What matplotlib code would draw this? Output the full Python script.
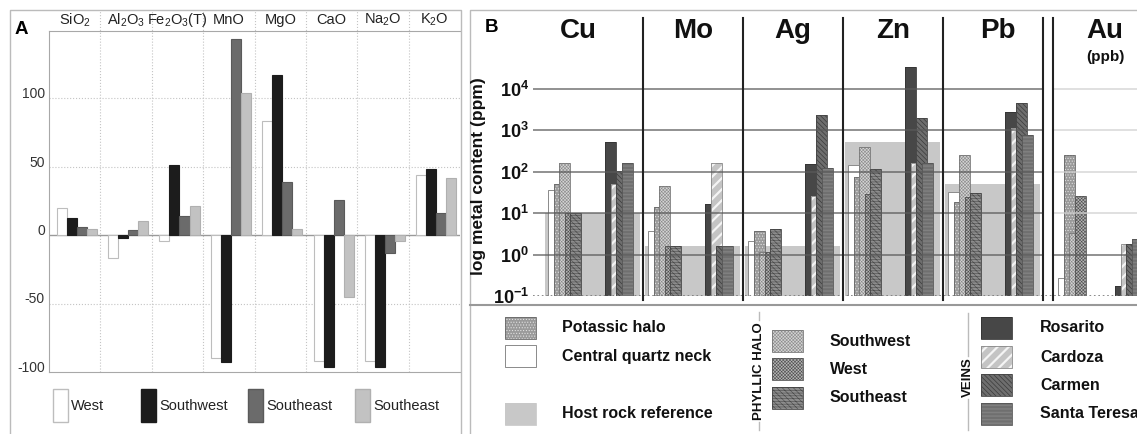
import numpy as np
import matplotlib
matplotlib.use('Agg')
import matplotlib.pyplot as plt
from matplotlib.patches import Rectangle
from matplotlib.ticker import NullLocator
from matplotlib.transforms import ScaledTranslation

plt.rcParams['font.family'] = ['Liberation Sans', 'DejaVu Sans']
plt.rcParams['mathtext.fontset'] = 'custom'
plt.rcParams['mathtext.rm'] = 'Liberation Sans'
plt.rcParams['mathtext.bf'] = 'Liberation Sans:bold'
plt.rcParams['mathtext.it'] = 'Liberation Sans:italic'
plt.rcParams['axes.unicode_minus'] = False
plt.rcParams['hatch.linewidth'] = 0.45

# ---- panel A data (relative change, %) ----
oxides = ['SiO$_2$', 'Al$_2$O$_3$', 'Fe$_2$O$_3$(T)', 'MnO', 'MgO', 'CaO', 'Na$_2$O', 'K$_2$O']
west = [20, -17, -4, -90, 83, -92, -92, 44]
southwest = [12.5, -2.5, 51.5, -93, 117, -96, -96, 48]
southeast_dark = [6, 4, 14, 143, 39, 25.5, -13, 16]
southeast_light = [4.5, 10, 21, 104, 4.5, -45.5, -4.5, 42]
legend_a = ['West', 'Southwest', 'Southeast', 'Southeast']

# ---- panel B data (ppm, Au in ppb) ----
metals = ['Cu', 'Mo', 'Ag', 'Zn', 'Pb', 'Au']
host_rock = [10, 1.6, 1.6, 525, 50, np.nan]
quartz_neck = [36, 3.7, 2.1, 145, 32, 0.27]
potassic = [50, 14, 3.7, 75, 18.6, 257]
phyllic_sw = [160, 46, 1.15, 400, 257, 3.3]
phyllic_w = [10, 1.6, 1.15, 29, 24.5, 26]
phyllic_se = [10, 1.6, 4.2, 117, 31, np.nan]
rosarito = [525, 17, 155, 34000, 2750, 0.17]
cardoza = [50, 160, 26, 160, 1150, 1.8]
carmen = [105, 1.6, 2350, 2000, 4600, 1.8]
santa_teresa = [160, 1.6, 124, 160, 780, 2.4]

W, H = 1137, 434
fig = plt.figure(figsize=(W / 100, H / 100), dpi=100)


def box(x0, y0, x1, y1):
    return [x0 / W, 1 - y1 / H, (x1 - x0) / W, (y1 - y0) / H]


def set_hlw(patches, lw):
    for p in patches:
        if hasattr(p, 'set_hatch_linewidth'):
            p.set_hatch_linewidth(lw)


STYLES = {
    'quartz': dict(fc='white', hc='none', hatch=None, ec='#777777'),
    'potassic': dict(fc='#9a9a9a', hc='#e4e4e4', hatch='......', ec='#666666'),
    'sw': dict(fc='#d4d4d4', hc='#8a8a8a', hatch='x' * 10, ec='#777777', hlw=0.4),
    'w': dict(fc='#b4b4b4', hc='#4e4e4e', hatch='x' * 10, ec='#555555', hlw=0.4),
    'se': dict(fc='#8c8c8c', hc='#4a4a4a', hatch='\\' * 6 + '-' * 6, ec='#444444', hlw=0.4),
    'rosarito': dict(fc='#474747', hc='none', hatch=None, ec='#333333'),
    'cardoza': dict(fc='#c4c4c4', hc='#f4f4f4', hatch='///', ec='#888888', hlw=1.6),
    'carmen': dict(fc='#6e6e6e', hc='#3a3a3a', hatch='\\' * 7, ec='#444444', hlw=0.5),
    'teresa': dict(fc='#888888', hc='#5c5c5c', hatch='-' * 12, ec='#555555', hlw=0.4),
    'host': dict(fc='#c8c8c8', hc='none', hatch=None, ec='#c8c8c8'),
}

# ================= panel A =================
axA = fig.add_axes(box(49, 31, 460, 372))
n = len(oxides)
idx = np.arange(n)
bw = 0.195
seriesA = [(west, 'white', '#bdbdbd'), (southwest, '#1c1c1c', '#1c1c1c'),
           (southeast_dark, '#6b6b6b', '#5a5a5a'), (southeast_light, '#c2c2c2', '#b0b0b0')]
for j, (vals, fc, ec) in enumerate(seriesA):
    axA.bar(idx + 0.15 + j * bw, vals, bw, align='edge', color=fc, edgecolor=ec,
            linewidth=0.8, zorder=3)

axA.set_xlim(0, n)
axA.set_ylim(-100, 149)
axA.axhline(0, color='#9a9a9a', lw=1, zorder=2)
for v in (-50, 50, 100):
    axA.axhline(v, color='#c4c4c4', lw=0.8, ls=':', zorder=1)
for i in range(1, n):
    axA.axvline(i, ymin=0, ymax=(372 - 10) / 341, color='#c4c4c4', lw=0.8, ls=':',
                clip_on=False, zorder=1)
for side in ('left', 'bottom', 'top'):
    axA.spines[side].set_color('#a8a8a8')
axA.spines['right'].set_visible(False)
axA.set_xticks([])
axA.set_yticks([-100, -50, 0, 50, 100])
axA.tick_params(axis='y', length=0, pad=3, labelsize=10, colors='#333333')
for lab in axA.get_yticklabels():
    lab.set_transform(lab.get_transform() + ScaledTranslation(0, 4 / 72, fig.dpi_scale_trans))
for i, name in enumerate(oxides):
    axA.text(i + 0.5, (372 - 20) / 341, name, transform=axA.get_xaxis_transform(),
             ha='center', va='center', fontsize=10.5, color='#222222')

# ================= panel B =================
axB = fig.add_axes(box(533, 12, 1137, 296))
axB.set_yscale('log')
ytop = 10 ** (-1 + 284 / 41.4)
axB.set_ylim(0.1, ytop)
axB.set_xlim(-0.1, 5.94)
group_x = np.arange(len(metals)) + np.array([0, 0, 0, 0, 0, 0.1])
base = 0.1
bwB = 0.11


def draw_series(vals, offset, st, z, width=bwB):
    vals = np.asarray(vals, dtype=float)
    ok = ~np.isnan(vals)
    xs = group_x[ok] + offset
    hs = vals[ok] - base
    bars = axB.bar(xs, hs, width, bottom=base, align='edge', color=st['fc'],
                   edgecolor=st['hc'], hatch=st['hatch'], linewidth=0, zorder=z)
    set_hlw(bars, st.get('hlw', 0.45))
    if st is not STYLES['host']:
        axB.bar(xs, hs, width, bottom=base, align='edge', fill=False,
                edgecolor=st['ec'], linewidth=0.6, zorder=z)


draw_series(host_rock, 0.02, STYLES['host'], 1, width=0.95)
halo = [(quartz_neck, 'quartz'), (potassic, 'potassic'), (phyllic_sw, 'sw'),
        (phyllic_w, 'w'), (phyllic_se, 'se')]
for k, (vals, key) in enumerate(halo):
    draw_series(vals, 0.05 + 0.055 * k, STYLES[key], 2 + k)
veins = [(rosarito, 'rosarito'), (cardoza, 'cardoza'), (carmen, 'carmen'),
         (santa_teresa, 'teresa')]
for k, (vals, key) in enumerate(veins):
    draw_series(vals, 0.62 + 0.055 * k, STYLES[key], 10 + k)

decades = [1, 10, 100, 1000, 10000]
for v in decades:
    axB.hlines(v, -0.1, 5.01, color='#5a5a5a', lw=1.1, alpha=0.85, zorder=20)
    axB.hlines(v, group_x[5], 5.94, color='#5a5a5a' if v == 1 else '#d0d0d0',
               lw=1.1, alpha=0.85, zorder=20)
axB.hlines(base * 1.02, -0.1, 5.94, color='#777777', lw=1.2, ls=':', zorder=20)

separators = list(np.arange(1, 6)) + [group_x[5]]
for xb in separators:
    axB.axvline(xb, ymin=-4 / 284, ymax=(296 - 18) / 284, color='#222222', lw=1.5,
                clip_on=False, zorder=25)

title_off = [0.35, 0.5, 0.5, 0.5, 0.55, 0.52]
for i, m in enumerate(metals):
    axB.text(group_x[i] + title_off[i], (296 - 31) / 284, m, transform=axB.get_xaxis_transform(),
             ha='center', va='center', fontsize=20, fontweight='bold', color='#111111')
axB.text(group_x[5] + title_off[5], (296 - 57) / 284, '(ppb)', transform=axB.get_xaxis_transform(),
         ha='center', va='center', fontsize=11, fontweight='bold', color='#111111')

yt = [0.1, 1, 10, 100, 1000, 10000]
axB.set_yticks(yt)
axB.set_yticklabels([r'$\mathbf{10^{%d}}$' % e for e in range(-1, 5)])
axB.yaxis.set_minor_locator(NullLocator())
axB.tick_params(axis='y', length=0, pad=3, labelsize=13, colors='#111111')
axB.set_xticks([])
for s in axB.spines.values():
    s.set_visible(False)
axB.patch.set_alpha(0)
fig.text(478 / W, 1 - 176 / H, 'log metal content (ppm)', rotation=90, ha='center',
         va='center', fontsize=12.5, fontweight='bold', color='#111111')

# ================= overlay: frames, labels, legends =================
ov = fig.add_axes([0, 0, 1, 1])
ov.set_xlim(0, W)
ov.set_ylim(H, 0)
ov.axis('off')

ov.plot([10, 10, 461, 461], [433, 10, 10, 433], color='#bbbbbb', lw=1)
ov.plot([470, 470, 1137], [434, 10, 10], color='#bbbbbb', lw=1)
ov.plot([470, 1137], [305, 305], color='#999999', lw=1.5)
ov.text(15, 29, 'A', fontsize=13.5, fontweight='bold', va='center', ha='left')
ov.text(485, 28, 'B', fontsize=13.5, fontweight='bold', va='center', ha='left')


def styled_rect(x, y, w, h, st):
    r = Rectangle((x, y), w, h, facecolor=st['fc'], edgecolor=st['hc'], hatch=st['hatch'],
                  linewidth=0, zorder=3)
    ov.add_patch(r)
    set_hlw([r], st.get('hlw', 0.45))
    ov.add_patch(Rectangle((x, y), w, h, fill=False, edgecolor=st['ec'], linewidth=0.6, zorder=4))


# legend A
leg_ax = [53, 141, 248, 355]
for (vals, fc, ec), x0, lab in zip(seriesA, leg_ax, legend_a):
    ov.add_patch(Rectangle((x0, 389), 15, 33, facecolor=fc, edgecolor=ec, lw=1))
    ov.text(x0 + 18, 406, lab, fontsize=10.5, va='center', ha='left', color='#222222')

# legend B
leg_b = [
    (505, 317, 'potassic', 'Potassic halo', 562),
    (505, 345, 'quartz', 'Central quartz neck', 562),
    (505, 403, 'host', 'Host rock reference', 562),
    (772, 330, 'sw', 'Southwest', 830),
    (772, 358, 'w', 'West', 830),
    (772, 387, 'se', 'Southeast', 830),
    (981, 317, 'rosarito', 'Rosarito', 1040),
    (981, 346, 'cardoza', 'Cardoza', 1040),
    (981, 374, 'carmen', 'Carmen', 1040),
    (981, 403, 'teresa', 'Santa Teresa', 1040),
]
for x0, y0, key, lab, tx in leg_b:
    styled_rect(x0, y0, 31, 22, STYLES[key])
    ov.text(tx, y0 + 11, lab, fontsize=11.5, fontweight='bold', va='center', ha='left',
            color='#111111')

ov.text(759, 371, 'PHYLLIC HALO', rotation=90, fontsize=9.5, fontweight='bold',
        ha='center', va='center', color='#111111')
ov.plot([759, 759], [312, 320], color='#bbbbbb', lw=1)
ov.plot([759, 759], [422, 430], color='#bbbbbb', lw=1)
ov.text(968, 377, 'VEINS', rotation=90, fontsize=9.5, fontweight='bold',
        ha='center', va='center', color='#111111')
ov.plot([968, 968], [313, 356], color='#bbbbbb', lw=1)
ov.plot([968, 968], [399, 430], color='#bbbbbb', lw=1)

fig.savefig('out.png', dpi=100)
